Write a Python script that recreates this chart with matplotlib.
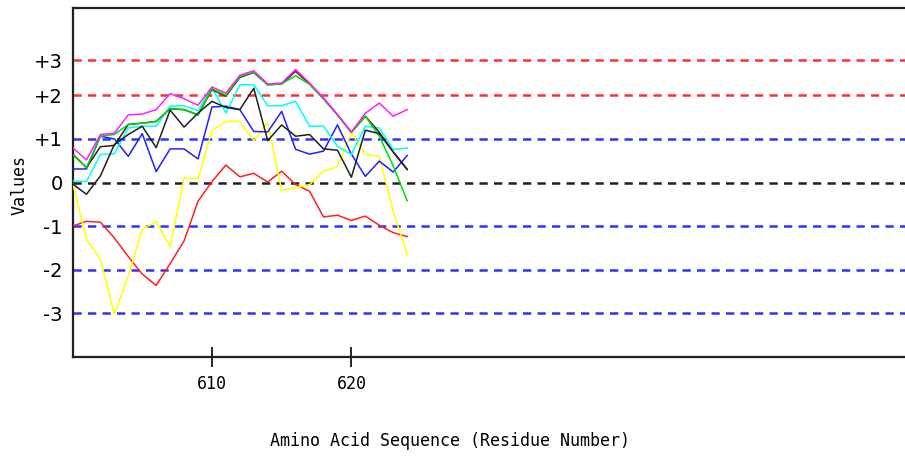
import matplotlib
matplotlib.use("Agg")
import matplotlib.pyplot as plt

residues = list(range(600, 625))

magenta = [0.80, 0.52, 1.10, 1.13, 1.55, 1.57, 1.67, 2.04, 1.92, 1.77, 2.19, 2.05, 2.46, 2.56, 2.26, 2.28,
           2.59, 2.28, 1.94, 1.56, 1.16, 1.59, 1.82, 1.52, 1.67]
green = [0.64, 0.34, 1.06, 1.10, 1.33, 1.36, 1.40, 1.69, 1.67, 1.55, 2.15, 2.00, 2.43, 2.53, 2.24, 2.26,
         2.45, 2.25, 1.92, 1.55, 1.15, 1.52, 1.06, 0.38, -0.42]
brown = [0.66, 0.34, 0.82, 0.85, 1.33, 1.36, 1.40, 1.69, 1.67, 1.55, 2.13, 1.98, 2.41, 2.52, 2.24, 2.26,
         2.55, 2.26, 1.92, 1.55, 1.15, 1.52, 1.15, 0.70, 0.30]
cyan = [0.04, 0.02, 0.64, 0.66, 1.25, 1.29, 1.29, 1.75, 1.76, 1.65, 2.18, 1.59, 2.24, 2.24, 1.76, 1.76,
        1.86, 1.29, 1.29, 0.83, 0.64, 1.29, 1.25, 0.76, 0.79]
blue = [0.31, 0.31, 1.06, 1.00, 0.60, 1.12, 0.25, 0.77, 0.77, 0.54, 1.73, 1.75, 1.67, 1.17, 1.16, 1.63,
        0.76, 0.65, 0.72, 1.32, 0.65, 0.14, 0.49, 0.24, 0.62]
black = [-0.03, -0.27, 0.15, 0.87, 1.10, 1.29, 0.80, 1.66, 1.27, 1.59, 1.86, 1.72, 1.67, 2.16, 0.96, 1.32,
         1.06, 1.10, 0.77, 0.74, 0.12, 1.20, 1.12, 0.70, 0.30]
yellow = [0.00, -1.30, -1.76, -3.02, -2.14, -1.08, -0.89, -1.47, 0.11, 0.08, 1.19, 1.40, 1.40, 0.96, 1.37, -0.18,
          -0.12, -0.05, 0.26, 0.36, 1.14, 0.64, 0.60, -0.66, -1.65]
red = [-1.00, -0.89, -0.91, -1.27, -1.70, -2.10, -2.36, -1.86, -1.34, -0.43, 0.02, 0.40, 0.13, 0.21, 0.01, 0.26,
       -0.05, -0.20, -0.79, -0.75, -0.87, -0.77, -0.98, -1.15, -1.24]

series = [
    (red, "#ff2020"),
    (yellow, "#ffff00"),
    (blue, "#2020ff"),
    (cyan, "#00ffff"),
    (brown, "#3a1a1a"),
    (green, "#00dd00"),
    (magenta, "#ff20ff"),
    (black, "#202020"),
]

ref_lines = [2.8, 2, 1, 0, -1, -2, -3]
ref_colors = ["#ff3030", "#ff3030", "#3030ff", "#202020", "#3030ff", "#3030ff", "#3030ff"]
ytick_labels = ["+3", "+2", "+1", "0", "-1", "-2", "-3"]
xticks = [610, 620]

fig = plt.figure(figsize=(9.05, 4.57), dpi=100)
ax = fig.add_axes([72.5 / 905, 1 - 357 / 457, (905 - 72.5) / 905, (357 - 8) / 457])
ax.set_xlim(600, 659.7)
ax.set_ylim(-4, 4)

for yv, c in zip(ref_lines, ref_colors):
    ax.axhline(yv, color=c, lw=1.8, ls=(0, (3.3, 2.5)), zorder=1)

for vals, c in series:
    ax.plot(residues, vals, color=c, lw=1.1, zorder=3)

ax.spines["right"].set_visible(False)
for s in ["top", "bottom", "left"]:
    ax.spines[s].set_linewidth(1.6)
    ax.spines[s].set_color("#202020")

ax.set_yticks(ref_lines)
ax.set_yticklabels(ytick_labels, fontsize=14, family="DejaVu Sans")
ax.tick_params(axis="y", length=0, pad=7)
ax.set_xticks(xticks)
ax.set_xticklabels([str(t) for t in xticks], fontsize=12, family="DejaVu Sans Mono")
ax.tick_params(axis="x", direction="inout", length=14, width=1.2, pad=6)

fig.text(450 / 905, 1 - 441 / 457, "Amino Acid Sequence (Residue Number)", ha="center", va="center",
         fontsize=12, family="DejaVu Sans Mono")
fig.text(20 / 905, 1 - 185 / 457, "Values", ha="center", va="center", rotation=90,
         fontsize=12, family="DejaVu Sans Mono")

fig.savefig("out.png", dpi=100)
